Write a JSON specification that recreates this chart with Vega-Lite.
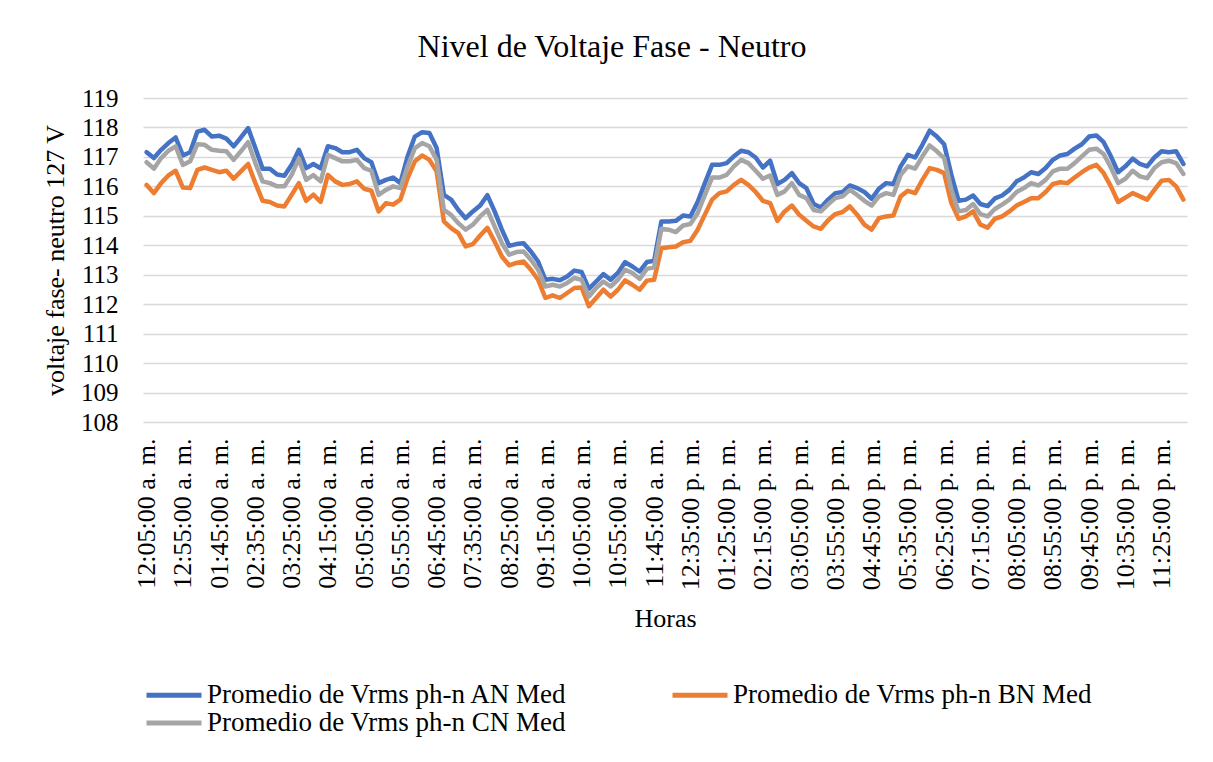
{
  "$schema": "https://vega.github.io/schema/vega-lite/v6.json",
  "width": 1044,
  "height": 324,
  "autosize": {"type": "none"},
  "padding": {"left": 143, "top": 98, "right": 26, "bottom": 340},
  "background": "white",
  "title": {"text": "Nivel de Voltaje Fase - Neutro", "font": "Liberation Serif", "fontSize": 32, "fontWeight": "normal", "color": "#000000", "anchor": "middle", "dx": -53, "offset": 22},
  "data": {"values": [
    {"hora":"12:05:00 a. m.","AN":117.16,"BN":116.05,"CN":116.82},
    {"hora":"12:15:00 a. m.","AN":116.96,"BN":115.77,"CN":116.60},
    {"hora":"12:25:00 a. m.","AN":117.24,"BN":116.11,"CN":116.96},
    {"hora":"12:35:00 a. m.","AN":117.47,"BN":116.37,"CN":117.21},
    {"hora":"12:45:00 a. m.","AN":117.66,"BN":116.53,"CN":117.36},
    {"hora":"12:55:00 a. m.","AN":117.05,"BN":115.96,"CN":116.73},
    {"hora":"01:05:00 a. m.","AN":117.16,"BN":115.94,"CN":116.85},
    {"hora":"01:15:00 a. m.","AN":117.86,"BN":116.56,"CN":117.43},
    {"hora":"01:25:00 a. m.","AN":117.92,"BN":116.64,"CN":117.41},
    {"hora":"01:35:00 a. m.","AN":117.69,"BN":116.56,"CN":117.24},
    {"hora":"01:45:00 a. m.","AN":117.72,"BN":116.48,"CN":117.21},
    {"hora":"01:55:00 a. m.","AN":117.62,"BN":116.53,"CN":117.19},
    {"hora":"02:05:00 a. m.","AN":117.36,"BN":116.26,"CN":116.90},
    {"hora":"02:15:00 a. m.","AN":117.66,"BN":116.51,"CN":117.19},
    {"hora":"02:25:00 a. m.","AN":117.98,"BN":116.76,"CN":117.50},
    {"hora":"02:35:00 a. m.","AN":117.30,"BN":116.11,"CN":116.79},
    {"hora":"02:45:00 a. m.","AN":116.60,"BN":115.51,"CN":116.17},
    {"hora":"02:55:00 a. m.","AN":116.60,"BN":115.47,"CN":116.11},
    {"hora":"03:05:00 a. m.","AN":116.40,"BN":115.35,"CN":116.00},
    {"hora":"03:15:00 a. m.","AN":116.36,"BN":115.32,"CN":116.00},
    {"hora":"03:25:00 a. m.","AN":116.73,"BN":115.71,"CN":116.39},
    {"hora":"03:35:00 a. m.","AN":117.24,"BN":116.11,"CN":116.94},
    {"hora":"03:45:00 a. m.","AN":116.62,"BN":115.51,"CN":116.22},
    {"hora":"03:55:00 a. m.","AN":116.76,"BN":115.72,"CN":116.38},
    {"hora":"04:05:00 a. m.","AN":116.61,"BN":115.47,"CN":116.17},
    {"hora":"04:15:00 a. m.","AN":117.36,"BN":116.39,"CN":117.07},
    {"hora":"04:25:00 a. m.","AN":117.30,"BN":116.17,"CN":116.96},
    {"hora":"04:35:00 a. m.","AN":117.16,"BN":116.05,"CN":116.85},
    {"hora":"04:45:00 a. m.","AN":117.16,"BN":116.08,"CN":116.85},
    {"hora":"04:55:00 a. m.","AN":117.24,"BN":116.17,"CN":116.90},
    {"hora":"05:05:00 a. m.","AN":116.96,"BN":115.92,"CN":116.62},
    {"hora":"05:15:00 a. m.","AN":116.82,"BN":115.85,"CN":116.53},
    {"hora":"05:25:00 a. m.","AN":116.11,"BN":115.15,"CN":115.71},
    {"hora":"05:35:00 a. m.","AN":116.22,"BN":115.43,"CN":115.88},
    {"hora":"05:45:00 a. m.","AN":116.30,"BN":115.38,"CN":116.00},
    {"hora":"05:55:00 a. m.","AN":116.11,"BN":115.55,"CN":115.94},
    {"hora":"06:05:00 a. m.","AN":117.02,"BN":116.28,"CN":116.68},
    {"hora":"06:15:00 a. m.","AN":117.69,"BN":116.85,"CN":117.30},
    {"hora":"06:25:00 a. m.","AN":117.84,"BN":117.05,"CN":117.47},
    {"hora":"06:35:00 a. m.","AN":117.81,"BN":116.90,"CN":117.36},
    {"hora":"06:45:00 a. m.","AN":117.30,"BN":116.51,"CN":116.90},
    {"hora":"06:55:00 a. m.","AN":115.71,"BN":114.81,"CN":115.20},
    {"hora":"07:05:00 a. m.","AN":115.55,"BN":114.58,"CN":115.03},
    {"hora":"07:15:00 a. m.","AN":115.20,"BN":114.41,"CN":114.75},
    {"hora":"07:25:00 a. m.","AN":114.92,"BN":113.96,"CN":114.53},
    {"hora":"07:35:00 a. m.","AN":115.15,"BN":114.04,"CN":114.70},
    {"hora":"07:45:00 a. m.","AN":115.35,"BN":114.33,"CN":114.98},
    {"hora":"07:55:00 a. m.","AN":115.70,"BN":114.59,"CN":115.20},
    {"hora":"08:05:00 a. m.","AN":115.15,"BN":114.13,"CN":114.64},
    {"hora":"08:15:00 a. m.","AN":114.53,"BN":113.62,"CN":114.07},
    {"hora":"08:25:00 a. m.","AN":113.98,"BN":113.32,"CN":113.68},
    {"hora":"08:35:00 a. m.","AN":114.04,"BN":113.40,"CN":113.77},
    {"hora":"08:45:00 a. m.","AN":114.07,"BN":113.45,"CN":113.79},
    {"hora":"08:55:00 a. m.","AN":113.79,"BN":113.17,"CN":113.51},
    {"hora":"09:05:00 a. m.","AN":113.45,"BN":112.83,"CN":113.17},
    {"hora":"09:15:00 a. m.","AN":112.83,"BN":112.21,"CN":112.60},
    {"hora":"09:25:00 a. m.","AN":112.86,"BN":112.30,"CN":112.66},
    {"hora":"09:35:00 a. m.","AN":112.81,"BN":112.21,"CN":112.60},
    {"hora":"09:45:00 a. m.","AN":112.94,"BN":112.38,"CN":112.72},
    {"hora":"09:55:00 a. m.","AN":113.14,"BN":112.55,"CN":112.89},
    {"hora":"10:05:00 a. m.","AN":113.09,"BN":112.57,"CN":112.83},
    {"hora":"10:15:00 a. m.","AN":112.52,"BN":111.93,"CN":112.26},
    {"hora":"10:25:00 a. m.","AN":112.77,"BN":112.21,"CN":112.55},
    {"hora":"10:35:00 a. m.","AN":113.02,"BN":112.49,"CN":112.77},
    {"hora":"10:45:00 a. m.","AN":112.83,"BN":112.26,"CN":112.60},
    {"hora":"10:55:00 a. m.","AN":113.06,"BN":112.49,"CN":112.83},
    {"hora":"11:05:00 a. m.","AN":113.43,"BN":112.81,"CN":113.17},
    {"hora":"11:15:00 a. m.","AN":113.28,"BN":112.66,"CN":113.06},
    {"hora":"11:25:00 a. m.","AN":113.11,"BN":112.49,"CN":112.86},
    {"hora":"11:35:00 a. m.","AN":113.43,"BN":112.80,"CN":113.20},
    {"hora":"11:45:00 a. m.","AN":113.47,"BN":112.83,"CN":113.25},
    {"hora":"11:55:00 a. m.","AN":114.81,"BN":113.90,"CN":114.56},
    {"hora":"12:05:00 p. m.","AN":114.81,"BN":113.93,"CN":114.53},
    {"hora":"12:15:00 p. m.","AN":114.83,"BN":113.96,"CN":114.45},
    {"hora":"12:25:00 p. m.","AN":115.01,"BN":114.10,"CN":114.67},
    {"hora":"12:35:00 p. m.","AN":114.98,"BN":114.15,"CN":114.72},
    {"hora":"12:45:00 p. m.","AN":115.47,"BN":114.53,"CN":115.09},
    {"hora":"12:55:00 p. m.","AN":116.11,"BN":115.04,"CN":115.71},
    {"hora":"01:05:00 p. m.","AN":116.73,"BN":115.55,"CN":116.30},
    {"hora":"01:15:00 p. m.","AN":116.73,"BN":115.77,"CN":116.30},
    {"hora":"01:25:00 p. m.","AN":116.79,"BN":115.83,"CN":116.39},
    {"hora":"01:35:00 p. m.","AN":117.02,"BN":116.05,"CN":116.68},
    {"hora":"01:45:00 p. m.","AN":117.21,"BN":116.22,"CN":116.90},
    {"hora":"01:55:00 p. m.","AN":117.16,"BN":116.05,"CN":116.79},
    {"hora":"02:05:00 p. m.","AN":116.98,"BN":115.81,"CN":116.53},
    {"hora":"02:15:00 p. m.","AN":116.64,"BN":115.51,"CN":116.26},
    {"hora":"02:25:00 p. m.","AN":116.87,"BN":115.43,"CN":116.37},
    {"hora":"02:35:00 p. m.","AN":116.08,"BN":114.83,"CN":115.71},
    {"hora":"02:45:00 p. m.","AN":116.22,"BN":115.15,"CN":115.83},
    {"hora":"02:55:00 p. m.","AN":116.45,"BN":115.35,"CN":116.11},
    {"hora":"03:05:00 p. m.","AN":116.11,"BN":115.04,"CN":115.71},
    {"hora":"03:15:00 p. m.","AN":115.94,"BN":114.83,"CN":115.60},
    {"hora":"03:25:00 p. m.","AN":115.40,"BN":114.64,"CN":115.20},
    {"hora":"03:35:00 p. m.","AN":115.28,"BN":114.56,"CN":115.15},
    {"hora":"03:45:00 p. m.","AN":115.55,"BN":114.85,"CN":115.39},
    {"hora":"03:55:00 p. m.","AN":115.77,"BN":115.06,"CN":115.60},
    {"hora":"04:05:00 p. m.","AN":115.81,"BN":115.13,"CN":115.66},
    {"hora":"04:15:00 p. m.","AN":116.03,"BN":115.32,"CN":115.88},
    {"hora":"04:25:00 p. m.","AN":115.94,"BN":115.04,"CN":115.71},
    {"hora":"04:35:00 p. m.","AN":115.81,"BN":114.70,"CN":115.51},
    {"hora":"04:45:00 p. m.","AN":115.58,"BN":114.53,"CN":115.35},
    {"hora":"04:55:00 p. m.","AN":115.92,"BN":114.92,"CN":115.66},
    {"hora":"05:05:00 p. m.","AN":116.11,"BN":114.98,"CN":115.77},
    {"hora":"05:15:00 p. m.","AN":116.08,"BN":115.01,"CN":115.71},
    {"hora":"05:25:00 p. m.","AN":116.68,"BN":115.66,"CN":116.39},
    {"hora":"05:35:00 p. m.","AN":117.07,"BN":115.85,"CN":116.68},
    {"hora":"05:45:00 p. m.","AN":116.98,"BN":115.77,"CN":116.60},
    {"hora":"05:55:00 p. m.","AN":117.41,"BN":116.22,"CN":117.02},
    {"hora":"06:05:00 p. m.","AN":117.89,"BN":116.62,"CN":117.39},
    {"hora":"06:15:00 p. m.","AN":117.69,"BN":116.56,"CN":117.19},
    {"hora":"06:25:00 p. m.","AN":117.43,"BN":116.45,"CN":116.96},
    {"hora":"06:35:00 p. m.","AN":116.39,"BN":115.43,"CN":115.88},
    {"hora":"06:45:00 p. m.","AN":115.51,"BN":114.90,"CN":115.15},
    {"hora":"06:55:00 p. m.","AN":115.55,"BN":114.98,"CN":115.20},
    {"hora":"07:05:00 p. m.","AN":115.69,"BN":115.15,"CN":115.40},
    {"hora":"07:15:00 p. m.","AN":115.40,"BN":114.70,"CN":115.06},
    {"hora":"07:25:00 p. m.","AN":115.33,"BN":114.60,"CN":114.98},
    {"hora":"07:35:00 p. m.","AN":115.59,"BN":114.90,"CN":115.23},
    {"hora":"07:45:00 p. m.","AN":115.69,"BN":114.98,"CN":115.38},
    {"hora":"07:55:00 p. m.","AN":115.88,"BN":115.15,"CN":115.55},
    {"hora":"08:05:00 p. m.","AN":116.17,"BN":115.35,"CN":115.81},
    {"hora":"08:15:00 p. m.","AN":116.30,"BN":115.47,"CN":115.94},
    {"hora":"08:25:00 p. m.","AN":116.48,"BN":115.60,"CN":116.11},
    {"hora":"08:35:00 p. m.","AN":116.42,"BN":115.60,"CN":116.03},
    {"hora":"08:45:00 p. m.","AN":116.62,"BN":115.81,"CN":116.22},
    {"hora":"08:55:00 p. m.","AN":116.90,"BN":116.08,"CN":116.51},
    {"hora":"09:05:00 p. m.","AN":117.05,"BN":116.14,"CN":116.60},
    {"hora":"09:15:00 p. m.","AN":117.10,"BN":116.11,"CN":116.60},
    {"hora":"09:25:00 p. m.","AN":117.28,"BN":116.30,"CN":116.79},
    {"hora":"09:35:00 p. m.","AN":117.43,"BN":116.48,"CN":117.02},
    {"hora":"09:45:00 p. m.","AN":117.69,"BN":116.64,"CN":117.24},
    {"hora":"09:55:00 p. m.","AN":117.73,"BN":116.73,"CN":117.28},
    {"hora":"10:05:00 p. m.","AN":117.50,"BN":116.45,"CN":117.10},
    {"hora":"10:15:00 p. m.","AN":117.02,"BN":116.00,"CN":116.64},
    {"hora":"10:25:00 p. m.","AN":116.48,"BN":115.47,"CN":116.11},
    {"hora":"10:35:00 p. m.","AN":116.68,"BN":115.62,"CN":116.26},
    {"hora":"10:45:00 p. m.","AN":116.94,"BN":115.77,"CN":116.53},
    {"hora":"10:55:00 p. m.","AN":116.76,"BN":115.66,"CN":116.34},
    {"hora":"11:05:00 p. m.","AN":116.68,"BN":115.55,"CN":116.28},
    {"hora":"11:15:00 p. m.","AN":116.98,"BN":115.88,"CN":116.62},
    {"hora":"11:25:00 p. m.","AN":117.19,"BN":116.19,"CN":116.82},
    {"hora":"11:35:00 p. m.","AN":117.16,"BN":116.22,"CN":116.87},
    {"hora":"11:45:00 p. m.","AN":117.19,"BN":116.00,"CN":116.79},
    {"hora":"11:55:00 p. m.","AN":116.76,"BN":115.55,"CN":116.42}
  ]},
  "transform": [{"fold": ["AN", "BN", "CN"], "as": ["serie", "v"]}],
  "mark": {"type": "line", "strokeWidth": 4.5, "strokeCap": "round", "strokeJoin": "round"},
  "encoding": {
    "x": {
      "field": "hora", "type": "nominal", "sort": null,
      "scale": {"padding": 0.5},
      "axis": {
        "title": "Horas", "titleFont": "Liberation Serif", "titleFontSize": 26, "titleFontWeight": "normal", "titleColor": "#000000", "titlePadding": 16,
        "labelFont": "Liberation Serif", "labelFontSize": 26, "labelColor": "#000000", "labelAngle": -90, "labelPadding": 16,
        "labelOverlap": false, "labelBound": false,
        "ticks": false, "domain": false, "grid": false,
        "values": ["12:05:00 a. m.","12:55:00 a. m.","01:45:00 a. m.","02:35:00 a. m.","03:25:00 a. m.","04:15:00 a. m.","05:05:00 a. m.","05:55:00 a. m.","06:45:00 a. m.","07:35:00 a. m.","08:25:00 a. m.","09:15:00 a. m.","10:05:00 a. m.","10:55:00 a. m.","11:45:00 a. m.","12:35:00 p. m.","01:25:00 p. m.","02:15:00 p. m.","03:05:00 p. m.","03:55:00 p. m.","04:45:00 p. m.","05:35:00 p. m.","06:25:00 p. m.","07:15:00 p. m.","08:05:00 p. m.","08:55:00 p. m.","09:45:00 p. m.","10:35:00 p. m.","11:25:00 p. m."]
      }
    },
    "y": {
      "field": "v", "type": "quantitative",
      "scale": {"domain": [108, 119], "nice": false, "zero": false},
      "axis": {
        "title": "voltaje fase- neutro 127 V", "titleFont": "Liberation Serif", "titleFontSize": 26, "titleFontWeight": "normal", "titleColor": "#000000", "titlePadding": 12,
        "labelFont": "Liberation Serif", "labelFontSize": 25, "labelColor": "#000000", "labelPadding": 25,
        "values": [108, 109, 110, 111, 112, 113, 114, 115, 116, 117, 118, 119],
        "ticks": false, "domain": false, "grid": true, "gridColor": "#D9D9D9", "gridWidth": 1.5
      }
    },
    "color": {
      "field": "serie", "type": "nominal",
      "scale": {"domain": ["AN", "BN", "CN"], "range": ["#4472C4", "#ED7D31", "#A5A5A5"]},
      "legend": {
        "title": null, "orient": "none", "legendX": 17.5, "legendY": 583.5, "direction": "horizontal", "columns": 2,
        "symbolType": "M-2.5,0H2.5", "symbolSize": 484, "symbolStrokeWidth": 5,
        "labelFont": "Liberation Serif", "labelFontSize": 27, "labelColor": "#000000", "labelOffset": 19.5, "labelLimit": 600,
        "columnPadding": 94, "rowPadding": 0,
        "labelExpr": "'Promedio de Vrms ph-n ' + datum.label + ' Med'"
      }
    }
  },
  "config": {"view": {"stroke": null}}
}
